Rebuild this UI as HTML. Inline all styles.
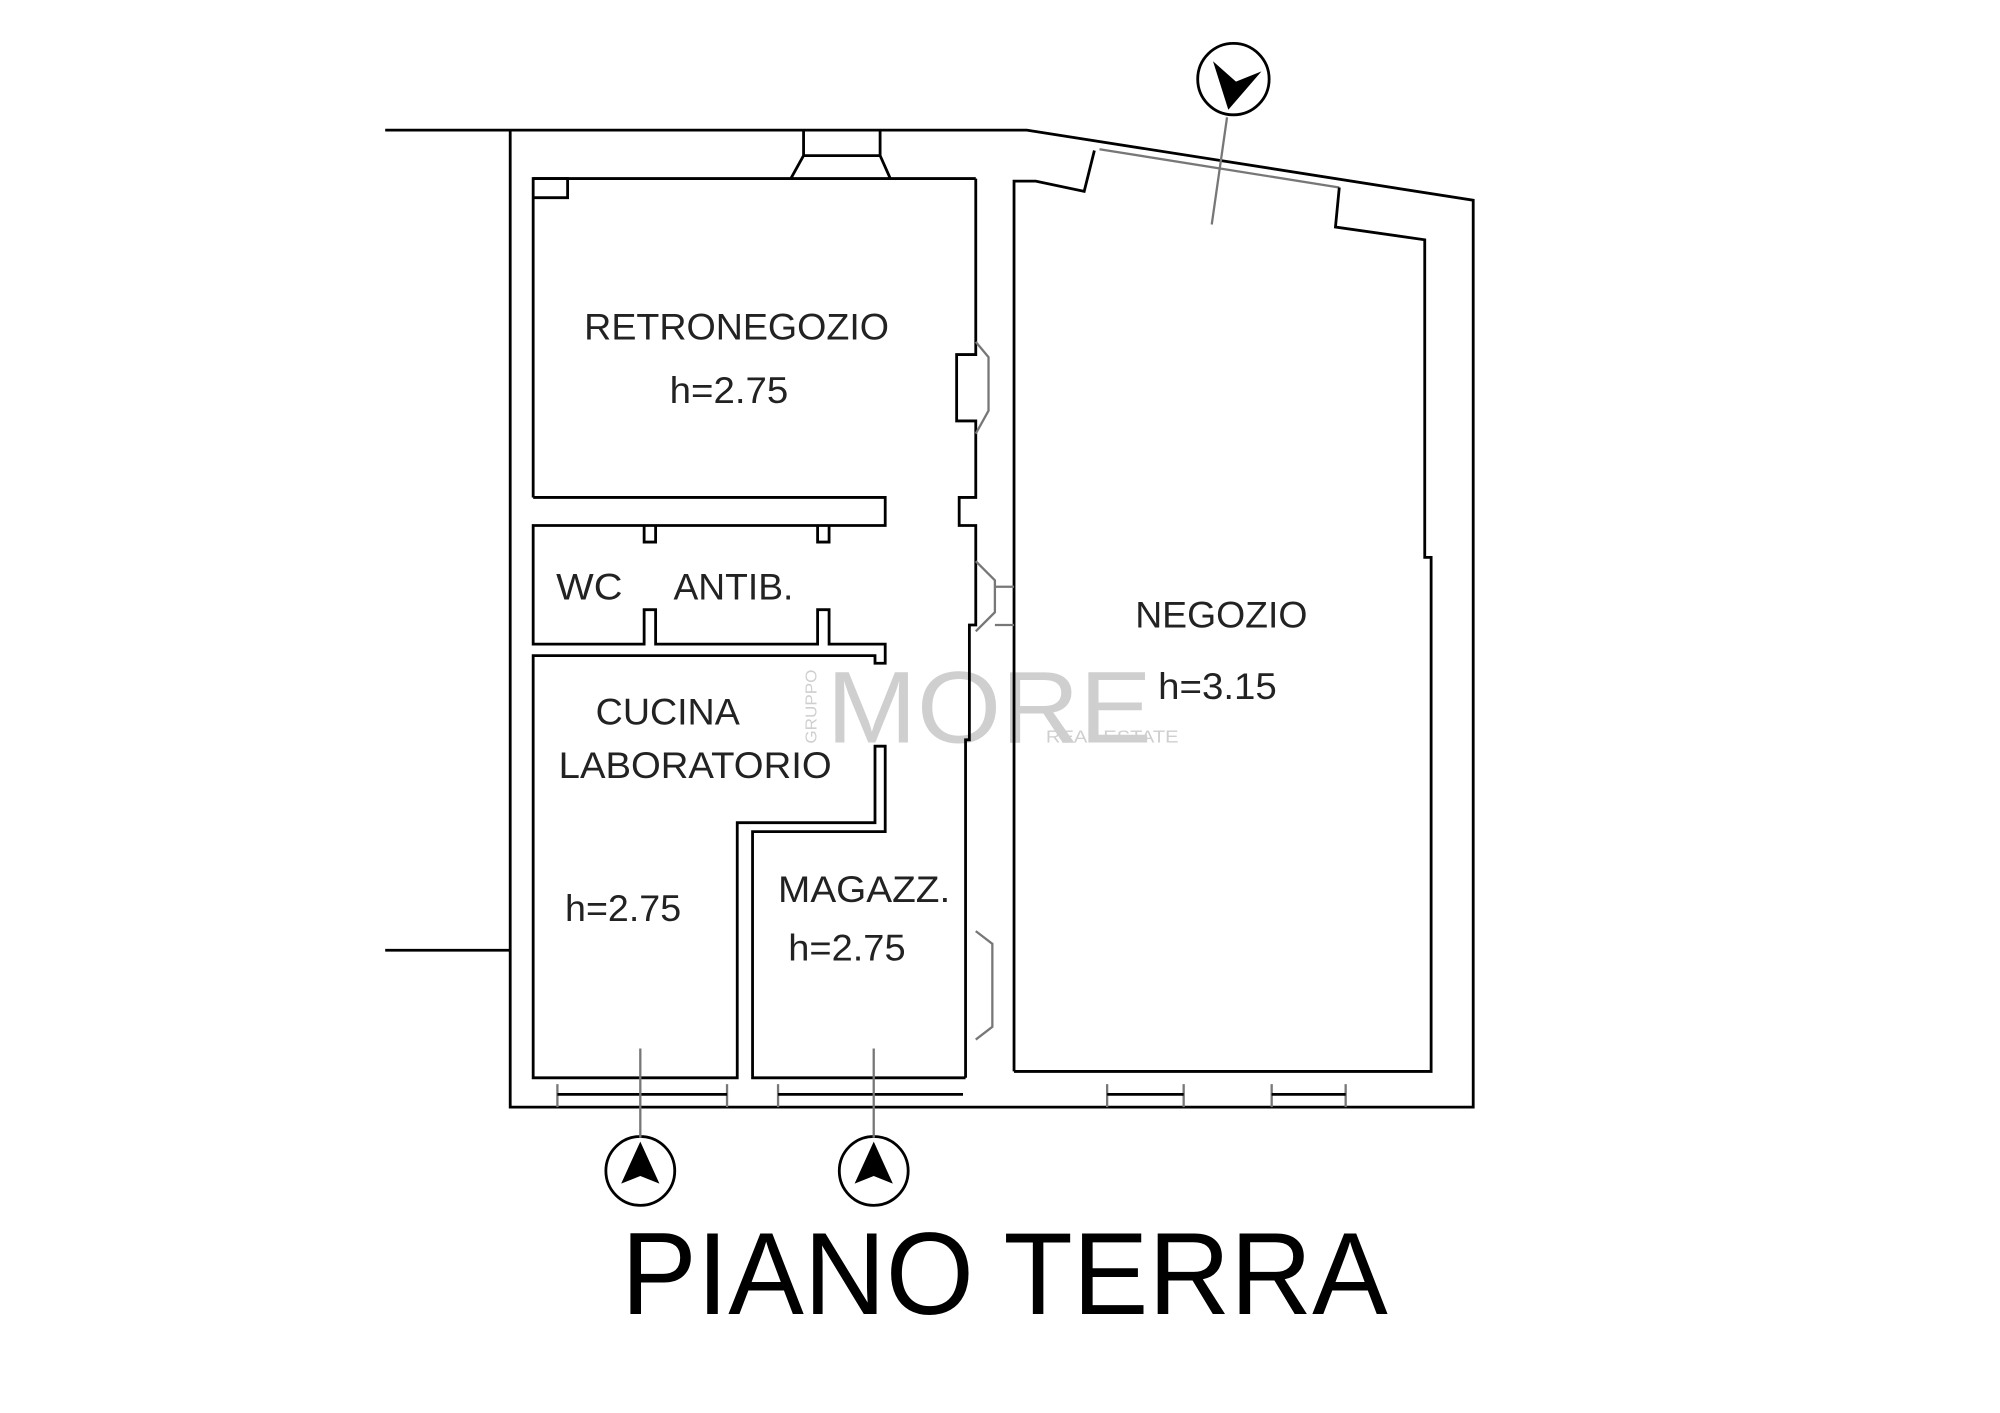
<!DOCTYPE html>
<html><head><meta charset="utf-8"><style>
html,body{margin:0;padding:0;background:#fff;}
svg{display:block;}
.w{fill:none;stroke:#000;stroke-width:2.2;}
.g{fill:none;stroke:#777;stroke-width:1.8;}
text{font-family:"Liberation Sans",sans-serif;}
.t{font-size:29px;fill:#222;}
</style></head><body>
<svg width="2000" height="1413" viewBox="0 0 1568 1107.8" xmlns="http://www.w3.org/2000/svg">
<rect width="1568" height="1108" fill="#fff"/>
<!-- watermark -->
<g fill="#cfcfcf">
<text x="648" y="582" font-size="80" textLength="255" lengthAdjust="spacingAndGlyphs">MORE</text>
<text x="0" y="0" font-size="12" transform="translate(640,583) rotate(-90)" textLength="58" lengthAdjust="spacingAndGlyphs">GRUPPO</text>
<text x="820" y="582" font-size="14" textLength="104" lengthAdjust="spacingAndGlyphs">REAL ESTATE</text>
</g>
<!-- outer walls -->
<path class="w" d="M302,102 H805 L1155,157 V868 H400 V102"/>
<path class="w" d="M302,745 H400"/>
<path class="g" d="M862,117 L1050,147"/>
<path class="w" d="M795,840 V142 H812 L850,150 L858,118"/>
<path class="w" d="M1050,147 L1047,178 L1117,188 V437 H1122 V840 H795"/>
<path class="g" d="M962,92 L950,176"/>
<!-- chimney -->
<path class="w" d="M630,102 V122 H690 V102 M630,122 L620,140 M690,122 L698,140"/>
<!-- rooms -->
<path class="w" d="M418,390 V140 H765"/>
<path class="w" d="M418,140 H445 V155 H418"/>
<path class="w" d="M418,390 H694 V412 H418 V505 H505 V478 H514 V505 H641 V478 H650 V505 H694 V520 H686 V514 H418 V845 H578 V645 H686 V585 H694 V652 H590 V845 H757"/>
<path class="w" d="M505,412 V425 H514 V412 M641,412 V425 H650 V412"/>
<path class="w" d="M765,140 V278 H750 V330 H765 V390 H752 V412 H765 V490 H760 V580 H757 V845"/>
<path class="g" d="M765,268 L775,280 V322 L765,340 M765,440 L780,455 V480 L765,495 M780,460 H795 M780,490 H795 M765,730 L778,740 V805 L765,815"/>
<!-- bottom windows -->
<path class="g" d="M437,850 V868 M570,850 V868 M610,850 V868 M868,850 V868 M928,850 V868 M997,850 V868 M1055,850 V868"/>
<path class="w" d="M437,858 H570 M610,858 H755 M868,858 H928 M997,858 H1055"/>
<!-- section markers -->
<g class="w">
<circle cx="502" cy="918" r="27"/><circle cx="685" cy="918" r="27"/><circle cx="967" cy="62" r="28"/>
</g>
<path class="g" d="M502,822 V892 M685,822 V892"/>
<path d="M502,895 L487,928 L502,922 L517,928Z M685,895 L670,928 L685,922 L700,928Z M963,86 L951,48 L969,64 L989,56Z" fill="#000"/>
<!-- labels -->
<text class="t" x="458" y="266" textLength="239" lengthAdjust="spacingAndGlyphs">RETRONEGOZIO</text>
<text class="t" x="525" y="316" textLength="93" lengthAdjust="spacingAndGlyphs">h=2.75</text>
<text class="t" x="436" y="470" textLength="52" lengthAdjust="spacingAndGlyphs">WC</text>
<text class="t" x="528" y="470" textLength="94" lengthAdjust="spacingAndGlyphs">ANTIB.</text>
<text class="t" x="890" y="492" textLength="135" lengthAdjust="spacingAndGlyphs">NEGOZIO</text>
<text class="t" x="908" y="548" textLength="93" lengthAdjust="spacingAndGlyphs">h=3.15</text>
<text class="t" x="467" y="568" textLength="113" lengthAdjust="spacingAndGlyphs">CUCINA</text>
<text class="t" x="438" y="610" textLength="214" lengthAdjust="spacingAndGlyphs">LABORATORIO</text>
<text class="t" x="443" y="722" textLength="91" lengthAdjust="spacingAndGlyphs">h=2.75</text>
<text class="t" x="610" y="707" textLength="135" lengthAdjust="spacingAndGlyphs">MAGAZZ.</text>
<text class="t" x="618" y="753" textLength="92" lengthAdjust="spacingAndGlyphs">h=2.75</text>
<text x="487" y="1030" font-size="92" fill="#000" textLength="601" lengthAdjust="spacingAndGlyphs">PIANO TERRA</text>
</svg>
</body></html>
